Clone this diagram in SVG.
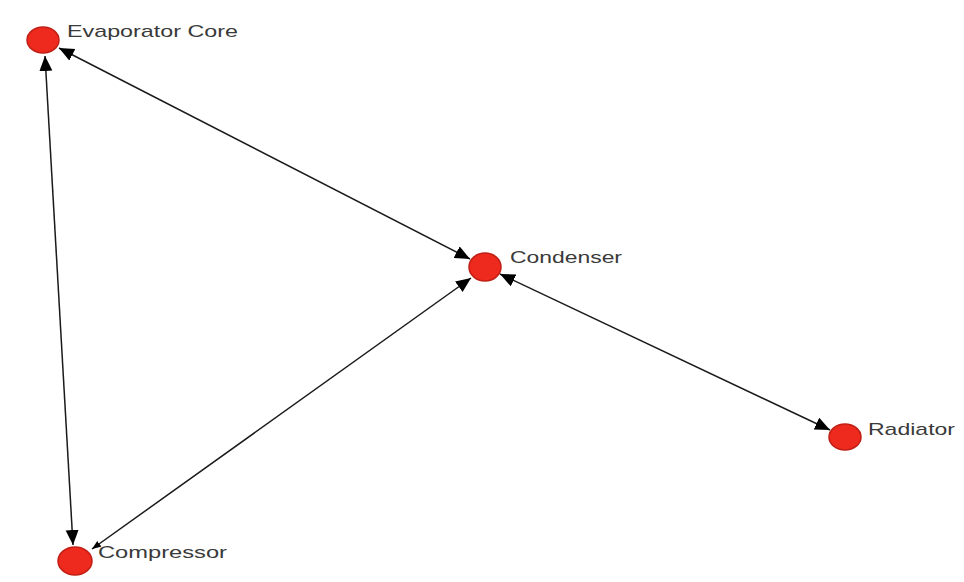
<svg xmlns="http://www.w3.org/2000/svg" width="964" height="582" viewBox="0 0 964 582">
<style>
.node{fill:#ee2a1e;stroke:#c01f15;stroke-width:1.5}
.lbl{font-family:"Liberation Sans",Arial,sans-serif;font-size:17px;fill:#3a3a3a}
.edge{stroke:#1a1a1a;stroke-width:1.5;fill:none}
</style>
<defs>
<marker id="ah" markerUnits="userSpaceOnUse" markerWidth="16" markerHeight="14" refX="15" refY="6.5" orient="auto-start-reverse">
<path d="M0,0 L15,6.5 L0,13 Z" fill="#000"/>
</marker>
<marker id="ahs" markerUnits="userSpaceOnUse" markerWidth="10" markerHeight="8" refX="9" refY="3.5" orient="auto-start-reverse">
<path d="M0,0 L9,3.5 L0,7 Z" fill="#000"/>
</marker>
</defs>
<rect width="964" height="582" fill="#fff"/>
<g id="connectors">
<line class="edge" x1="45" y1="56" x2="73" y2="545" marker-start="url(#ah)" marker-end="url(#ah)"/>
<line class="edge" x1="59" y1="48" x2="470" y2="259" marker-start="url(#ah)" marker-end="url(#ah)"/>
<line class="edge" x1="92" y1="549" x2="471" y2="278" marker-start="url(#ahs)" marker-end="url(#ah)"/>
<line class="edge" x1="500" y1="274" x2="830" y2="430" marker-start="url(#ah)" marker-end="url(#ah)"/>
</g>
<g id="evaporator">
<ellipse class="node" cx="43" cy="40" rx="16" ry="13"/>
<text class="lbl" x="67" y="37" textLength="171" lengthAdjust="spacingAndGlyphs">Evaporator Core</text>
</g>
<g id="condenser">
<ellipse class="node" cx="485" cy="267" rx="16" ry="14"/>
<text class="lbl" x="510" y="263" textLength="112" lengthAdjust="spacingAndGlyphs">Condenser</text>
</g>
<g id="radiator">
<ellipse class="node" cx="845" cy="437" rx="16" ry="13"/>
<text class="lbl" x="868" y="435" textLength="87" lengthAdjust="spacingAndGlyphs">Radiator</text>
</g>
<g id="compressor">
<ellipse class="node" cx="75" cy="561" rx="17" ry="14"/>
<text class="lbl" x="98" y="558" textLength="129" lengthAdjust="spacingAndGlyphs">Compressor</text>
</g>
</svg>
